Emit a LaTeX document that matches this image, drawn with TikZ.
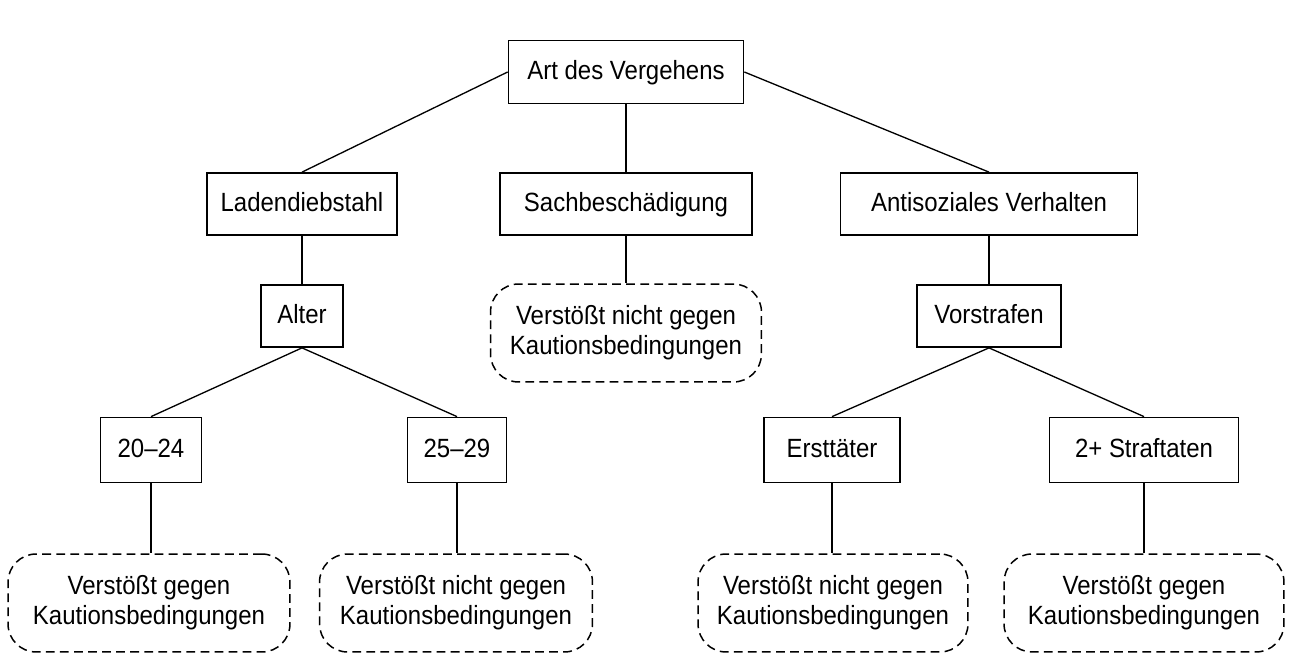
\documentclass[tikz,border=0pt]{standalone}
\usepackage{fontspec}
\setmainfont{Liberation Sans}[FakeStretch=0.91]
\tikzset{
  box/.style = {draw, line width=1pt, inner sep=0pt, minimum height=1.26cm,
    text height=10.8pt, text depth=2.8pt, font=\fontsize{15}{17}\selectfont},
  leaf/.style = {draw, line width=0.85pt, dash pattern=on 5pt off 3pt,
    rounded corners=16pt, inner sep=0pt, minimum height=1.96cm, align=center,
    font=\fontsize{15}{17}\selectfont},
  link/.style = {line width=0.75pt}
}
\begin{document}
\begin{tikzpicture}[x=0.02cm, y=-0.02cm]
    \useasboundingbox (0,0) rectangle (1305,665) ;
    \node [box, minimum width=4.70cm] (art) at (626,72) {Art des Vergehens} ;
    \node [box, minimum width=3.80cm, minimum height=1.24cm] (laden) at (302,204) {Ladendiebstahl} ;
    \node [box, minimum width=5.04cm, minimum height=1.24cm] (sach) at (626,204) {Sachbeschädigung} ;
    \node [box, minimum width=5.94cm, minimum height=1.24cm] (anti) at (989,204) {Antisoziales Verhalten} ;
    \node [box, minimum width=1.64cm, minimum height=1.24cm] (alter) at (302,316) {Alter} ;
    \node [box, minimum width=2.88cm, minimum height=1.24cm] (vorstr) at (989,316) {Vorstrafen} ;
    \node [leaf, minimum width=5.42cm] (sachleaf) at (626,333) {Verstößt nicht gegen\\Kautionsbedingungen} ;
    \node [box, minimum width=2.02cm, minimum height=1.30cm] (age1) at (151,450) {20--24} ;
    \node [box, minimum width=1.98cm, minimum height=1.30cm] (age2) at (457,450) {25--29} ;
    \node [box, minimum width=2.72cm, minimum height=1.30cm] (erst) at (832,450) {Ersttäter} ;
    \node [box, minimum width=3.78cm, minimum height=1.30cm] (mehr) at (1144,450) {2+ Straftaten} ;
    \node [leaf, minimum width=5.64cm] (leafa) at (149,603) {Verstößt gegen\\Kautionsbedingungen} ;
    \node [leaf, minimum width=5.46cm] (leafb) at (456,603) {Verstößt nicht gegen\\Kautionsbedingungen} ;
    \node [leaf, minimum width=5.40cm] (leafc) at (833,603) {Verstößt nicht gegen\\Kautionsbedingungen} ;
    \node [leaf, minimum width=5.60cm] (leafd) at (1144,603) {Verstößt gegen\\Kautionsbedingungen} ;
    \draw [link] (art.west) -- (laden.north) ;
    \draw [link] (art.east) -- (anti.north) ;
    \foreach \a/\b in {art/sach, laden/alter, anti/vorstr, sach/sachleaf,
      alter/age1, alter/age2, vorstr/erst, vorstr/mehr} {
      \draw [link] (\a.south) -- (\b.north) ;
    }
    \foreach \a/\b in {age1/leafa, age2/leafb, erst/leafc, mehr/leafd}
      \draw [link] (\a.south) -- (\a.south |- \b.north) ;
  \end{tikzpicture}
\end{document}
